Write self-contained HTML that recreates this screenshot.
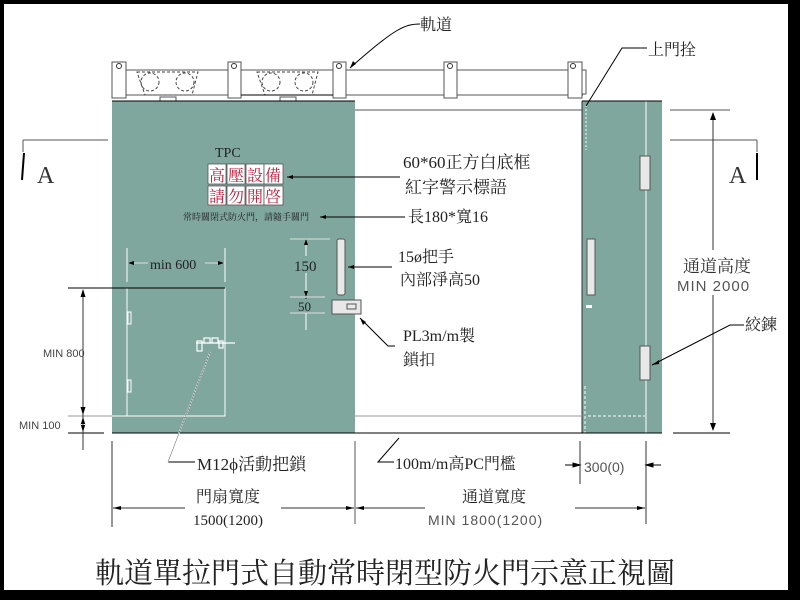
<!DOCTYPE html>
<html><head><meta charset="utf-8"><style>
html,body{margin:0;padding:0;background:#000;}
svg{display:block}
.s{font-family:"Liberation Serif","Noto Serif CJK SC","Noto Sans CJK TC",serif;}
.a{font-family:"Liberation Sans","Noto Sans CJK TC",sans-serif;}
</style></head><body>
<svg width="800" height="600" viewBox="0 0 800 600" xmlns="http://www.w3.org/2000/svg">
<rect x="0" y="0" width="800" height="600" fill="#000"/>
<rect x="4" y="4" width="784" height="586" fill="#fff"/>
<!-- track -->
<g stroke="#555" stroke-width="1" fill="#fff">
<line x1="112" y1="70" x2="583" y2="70"/>
<line x1="112" y1="95" x2="583" y2="95"/>
<rect x="112" y="62" width="14" height="36"/>
<rect x="228" y="62" width="13" height="36"/>
<rect x="333" y="62" width="13" height="36"/>
<rect x="444" y="62" width="13" height="36"/>
<rect x="568" y="62" width="14" height="36"/>
<rect x="582" y="70" width="4" height="24"/>
</g>
<g fill="none" stroke="#333" stroke-width="1">
<circle cx="119" cy="66" r="2.5"/><circle cx="234" cy="66" r="2.5"/><circle cx="339" cy="66" r="2.5"/><circle cx="450" cy="66" r="2.5"/><circle cx="573" cy="66" r="2.5"/>
</g>
<g fill="none" stroke="#444" stroke-dasharray="3,2" stroke-width="1">
<path d="M137 72 L198 72 L192 95 L145 95 Z"/><circle cx="150" cy="82" r="9"/><circle cx="185" cy="82" r="9"/>
<path d="M257 72 L318 72 L312 95 L265 95 Z"/><circle cx="271" cy="82" r="9"/><circle cx="304" cy="82" r="9"/>
</g>
<line x1="241" y1="95" x2="333" y2="95" stroke="#000"/>
<rect x="160" y="97" width="16" height="5" fill="#fff" stroke="#555"/>
<rect x="280" y="97" width="16" height="5" fill="#fff" stroke="#555"/>
<!-- green panels -->
<rect x="112" y="101" width="243" height="332" fill="#7fa79e"/>
<rect x="582" y="101" width="80" height="332" fill="#7fa79e"/>
<line x1="646" y1="101" x2="646" y2="433" stroke="#fff"/>
<line x1="112" y1="101" x2="355" y2="101" stroke="#000"/>
<line x1="582" y1="101" x2="662" y2="101" stroke="#000"/>
<line x1="582" y1="101" x2="582" y2="433" stroke="#333"/>
<line x1="586" y1="105" x2="586" y2="150" stroke="#fff" stroke-dasharray="2,2"/>
<path d="M585 386 V433 M588 416 H645" stroke="#fff" stroke-dasharray="3,2" fill="none"/>
<rect x="640" y="156" width="10" height="34" fill="#e8e8e8" stroke="#555"/>
<rect x="640" y="346" width="10" height="34" fill="#e8e8e8" stroke="#555"/>
<rect x="587" y="239" width="8" height="56" fill="#e8e8e8" stroke="#555"/>
<rect x="586" y="305" width="6" height="3" fill="#fff"/>
<!-- lines in opening -->
<line x1="355" y1="110" x2="583" y2="110" stroke="#555"/>
<line x1="355" y1="416" x2="582" y2="416" stroke="#999"/>
<line x1="112" y1="433" x2="662" y2="433" stroke="#000"/>
<line x1="673" y1="433" x2="730" y2="433" stroke="#000"/>
<line x1="670" y1="110" x2="730" y2="110" stroke="#555"/>
<line x1="670" y1="140" x2="757" y2="140" stroke="#555"/>
<line x1="757" y1="140" x2="757" y2="152" stroke="#555"/>
<line x1="757" y1="153" x2="757" y2="180" stroke="#000" stroke-width="2"/>
<line x1="713" y1="114" x2="713" y2="430" stroke="#333"/>
<path d="M713 112 l-3 8 h6z M713 431 l-3 -8 h6z" fill="#000"/>
<rect x="676" y="250" width="92" height="45" fill="#fff"/>
<line x1="713" y1="295" x2="713" y2="300" stroke="#333"/>
<text x="683" y="272" class="s" font-size="17" fill="#333">通道高度</text>
<text x="677" y="291" class="a" font-size="15" fill="#555" letter-spacing="1">MIN 2000</text>
<text x="729" y="183" class="s" font-size="24" fill="#333">A</text>
<!-- left A -->
<line x1="23" y1="140" x2="108" y2="140" stroke="#555"/>
<line x1="23" y1="140" x2="23" y2="152" stroke="#555"/>
<line x1="24" y1="153" x2="22" y2="180" stroke="#000" stroke-width="2"/>
<text x="37" y="183" class="s" font-size="24" fill="#333">A</text>
<!-- door signs -->
<text x="215" y="157" class="s" font-size="14" fill="#222">TPC</text>
<g fill="#fff" stroke="#555" stroke-width="0.8">
<rect x="208" y="164" width="18" height="20"/><rect x="227" y="164" width="18" height="20"/><rect x="246" y="164" width="18" height="20"/><rect x="264" y="164" width="19" height="20"/>
<rect x="208" y="186" width="18" height="19"/><rect x="227" y="186" width="18" height="19"/><rect x="246" y="186" width="18" height="19"/><rect x="264" y="186" width="19" height="19"/>
</g>
<g class="s" font-size="16" fill="#c0203a">
<text x="209" y="181">高</text><text x="228" y="181">壓</text><text x="247" y="181">設</text><text x="265" y="181">備</text>
<text x="209" y="202">請</text><text x="228" y="202">勿</text><text x="247" y="202">開</text><text x="265" y="202">啓</text>
</g>
<text x="183" y="220" class="s" font-size="9" fill="#222">常時關閉式防火門，請隨手關門</text>
<line x1="287" y1="177" x2="400" y2="177" stroke="#000"/>
<line x1="320" y1="217" x2="405" y2="217" stroke="#000"/>
<path d="M287 177 l6 -2 v4z M320 217 l6 -2 v4z" fill="#000"/>
<!-- small door -->
<rect x="127" y="288" width="98" height="128" fill="none" stroke="#fff"/>
<rect x="128" y="312" width="3" height="12" fill="none" stroke="#fff"/>
<rect x="128" y="380" width="3" height="12" fill="none" stroke="#fff"/>
<g stroke="#fff" fill="none" stroke-width="1.2">
<path d="M196 343 h39"/>
<rect x="197" y="341" width="5" height="10"/>
<rect x="204" y="338" width="6" height="5"/>
<rect x="212" y="338" width="6" height="5"/>
<rect x="219" y="341" width="4" height="7"/>
</g>
<line x1="68" y1="288" x2="225" y2="288" stroke="#000"/>
<line x1="68" y1="416" x2="112" y2="416" stroke="#999"/>
<line x1="112" y1="416" x2="127" y2="416" stroke="#fff"/>
<line x1="68" y1="433" x2="104" y2="433" stroke="#000"/>
<line x1="83" y1="290" x2="83" y2="450" stroke="#333"/>
<path d="M83 289 l-2.5 8 h5z M83 415 l-2.5 -8 h5z M83 417 l-2.5 8 h5z M83 432 l-2.5 -8 h5z" fill="#000"/>
<text x="43" y="357" class="a" font-size="11" fill="#444">MIN 800</text>
<text x="19" y="429" class="a" font-size="11" fill="#444">MIN 100</text>
<!-- min 600 -->
<path d="M127 248 v34 M225 248 v34" stroke="#fff"/>
<path d="M128 263 h20 M205 263 h20" stroke="#ddd"/>
<path d="M128 263 l6 -2 v4z M224 263 l-6 -2 v4z" fill="#000"/>
<text x="150" y="269" class="s" font-size="14" fill="#222">min 600</text>
<!-- 150/50 -->
<path d="M290 239 h40 M290 297 h35 M290 313 h35" stroke="#ddd"/>
<line x1="306" y1="239" x2="306" y2="330" stroke="#fff"/>
<path d="M306 239 l-2 6 h4z M306 297 l-2 -6 h4z M306 297 l-2 6 h4z M306 313 l-2 -6 h4z" fill="#000"/>
<rect x="293" y="256" width="26" height="17" fill="#7fa79e"/>
<text x="294" y="271" class="s" font-size="15" fill="#222">150</text>
<rect x="298" y="299" width="18" height="13" fill="#7fa79e"/>
<text x="298" y="311" class="s" font-size="13" fill="#222">50</text>
<rect x="337" y="239" width="8" height="56" rx="2" fill="#e8e8e8" stroke="#555"/>
<rect x="332" y="300" width="29" height="14" fill="#e8e8e8" stroke="#555"/>
<rect x="347" y="304" width="9" height="5" fill="none" stroke="#555"/>
<line x1="348" y1="267" x2="392" y2="267" stroke="#000"/>
<path d="M348 267 l6 -2 v4z" fill="#000"/>
<polyline points="360,318 388,346 395,346" fill="none" stroke="#000"/>
<path d="M360 318 l3 7 l3 -3z" fill="#000"/>
<!-- right labels -->
<g class="s" fill="#222">
<text x="403" y="168" font-size="17">60*60正方白底框</text>
<text x="405" y="193" font-size="17">紅字警示標語</text>
<text x="408" y="222" font-size="16">長180*寬16</text>
<text x="398" y="262" font-size="16">15ø把手</text>
<text x="400" y="285" font-size="16">內部淨高50</text>
<text x="403" y="341" font-size="16">PL3m/m製</text>
<text x="403" y="365" font-size="16">鎖扣</text>
<text x="420" y="30" font-size="16">軌道</text>
<text x="648" y="55" font-size="16">上門拴</text>
<text x="745" y="330" font-size="16">絞鍊</text>
</g>
<path d="M420 24 C405 24 395 28 350 68" fill="none" stroke="#000"/>
<path d="M350 68 l3 -7 l3 3z" fill="#000"/>
<path d="M647 48 H622 L586 106" fill="none" stroke="#000"/>
<path d="M744 325 H730 L652 365" fill="none" stroke="#000"/>
<path d="M652 365 l7 -5 v4z" fill="#000"/>
<!-- bottom -->
<line x1="112" y1="441" x2="112" y2="527" stroke="#333"/>
<line x1="355" y1="441" x2="355" y2="524" stroke="#555"/>
<line x1="580" y1="441" x2="580" y2="484" stroke="#333"/>
<line x1="646" y1="441" x2="646" y2="524" stroke="#333"/>
<line x1="113" y1="508" x2="185" y2="508" stroke="#333"/>
<line x1="281" y1="508" x2="354" y2="508" stroke="#333"/>
<line x1="356" y1="508" x2="425" y2="508" stroke="#333"/>
<line x1="575" y1="508" x2="645" y2="508" stroke="#333"/>
<path d="M113 508 l8 -2 v4z M354 508 l-8 -2 v4z M356 508 l8 -2 v4z M645 508 l-8 -2 v4z" fill="#000"/>
<path d="M565 465 h15 M646 465 h15 M580 465 l-7 -2 v4z M646 465 l7 -2 v4z" stroke="#000" fill="#000"/>
<path d="M168 462 L195 462" stroke="#000"/>
<path d="M168 462 L210 352" stroke="#fff" stroke-width="1.5" stroke-dasharray="2,1"/>
<path d="M168 462 L210 352" stroke="#555" stroke-width="0.5"/>
<path d="M394 462 H378 L399 438" stroke="#000" fill="none"/>
<g class="s" fill="#222">
<text x="197" y="470" font-size="17">M12ϕ活動把鎖</text>
<text x="395" y="469" font-size="16">100m/m高PC門檻</text>
<text x="196" y="502" font-size="16">門扇寬度</text>
<text x="193" y="525" font-size="15">1500(1200)</text>
<text x="462" y="502" font-size="16">通道寬度</text>
<text x="95" y="583" font-size="29">軌道單拉門式自動常時閉型防火門示意正視圖</text>
</g>
<text x="584" y="472" class="a" font-size="14" fill="#555">300(0)</text>
<text x="428" y="525" class="a" font-size="14" fill="#555" letter-spacing="1">MIN 1800(1200)</text>
</svg>
</body></html>
